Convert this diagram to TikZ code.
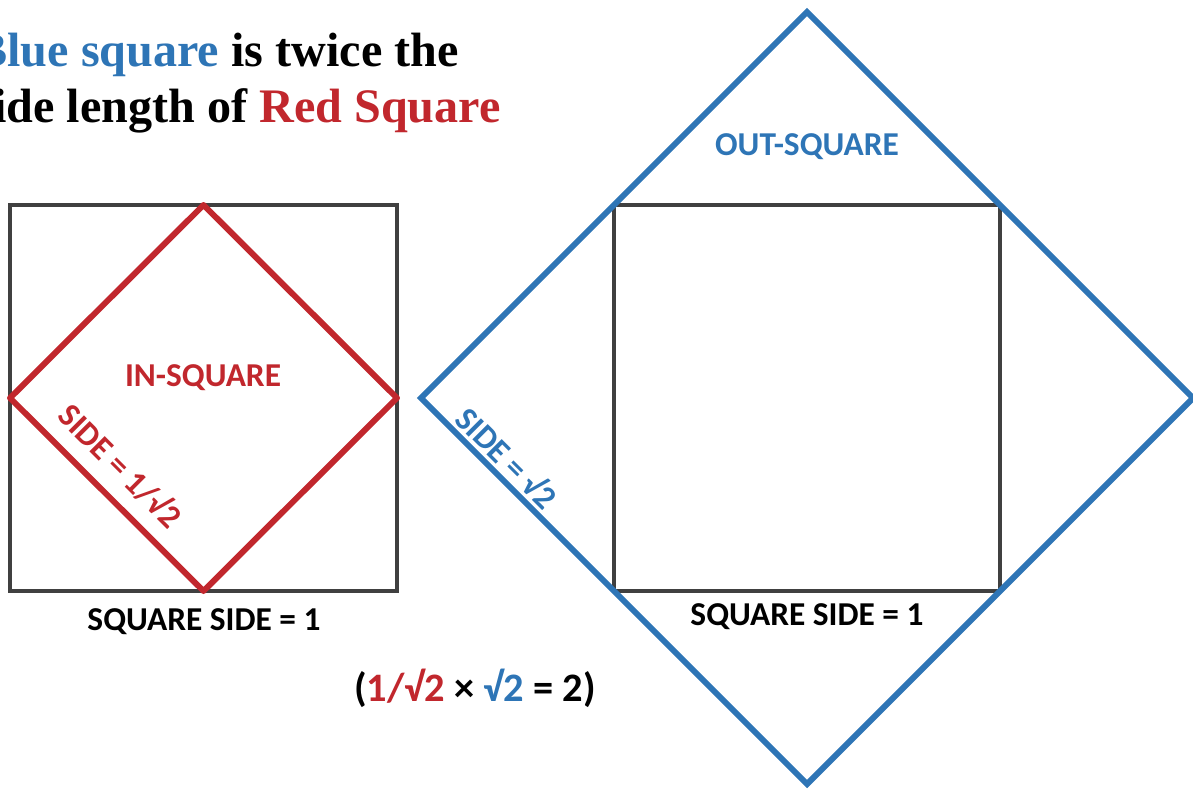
\documentclass[tikz,border=0pt]{standalone}
\usepackage{fontspec}
\setmainfont{Liberation Serif}
\setsansfont{Carlito}
\usepackage{xcolor}
\usetikzlibrary{positioning}

\definecolor{sqred}{HTML}{C1272D}
\definecolor{sqblue}{HTML}{2E75B6}
\definecolor{sqgray}{HTML}{404040}

\begin{document}
\begin{tikzpicture}[x=0.02cm, y=-0.02cm,
    frame/.style={draw=sqgray, line width=2.3pt},
    insq/.style={draw=sqred, line width=3.4pt, line join=round},
    outsq/.style={draw=sqblue, line width=3.4pt},
    lbl/.style={font=\sffamily\bfseries\fontsize{19}{22}\selectfont, inner sep=0pt},
    headline/.style={font=\rmfamily\bfseries\fontsize{27.4}{32}\selectfont,
                inner sep=0pt, anchor=base east}]

\useasboundingbox (0,0) rectangle (1193,789);

% title
\node[headline] (titleA) at (459,66) {{\color{sqblue}Blue square} is twice the};
\node[headline] (titleB) at (501,122) {side length of {\color{sqred}Red Square}};

% left: square with in-square
\draw[frame] (10,205) rectangle (397,591);
\coordinate (rN) at (203.5,205);
\coordinate (rE) at (397,398);
\coordinate (rS) at (203.5,591);
\coordinate (rW) at (10,398);
\draw[insq] (rN) -- (rE) -- (rS) -- (rW) -- cycle;

\node[lbl, text=sqred] (inLbl) at (203,378) {IN-SQUARE};
\node[lbl, text=sqred, rotate=-45] (sideL) at (121,465) {SIDE = 1/√2};
\node[lbl] (baseL) at (204,622) {SQUARE SIDE = 1};

% right: square with out-square
\draw[frame] (614,205) rectangle (1000,591);
\coordinate (bN) at (807,12);
\coordinate (bE) at (1193,398);
\coordinate (bS) at (807,784);
\coordinate (bW) at (421,398);
\draw[outsq] (bN) -- (bE) -- (bS) -- (bW) -- cycle;

\node[lbl, text=sqblue] (outLbl) at (807,147) {OUT-SQUARE};
\node[lbl, text=sqblue, rotate=-45] (sideR) at (508,457) {SIDE = √2};
\node[lbl] (baseR) at (807,617) {SQUARE SIDE = 1};

\node[lbl, font=\sffamily\bfseries\fontsize{23}{26}\selectfont] (prod) at (475,688)
  {({\color{sqred}1/√2} × {\color{sqblue}√2} = 2)};
\end{tikzpicture}
\end{document}
